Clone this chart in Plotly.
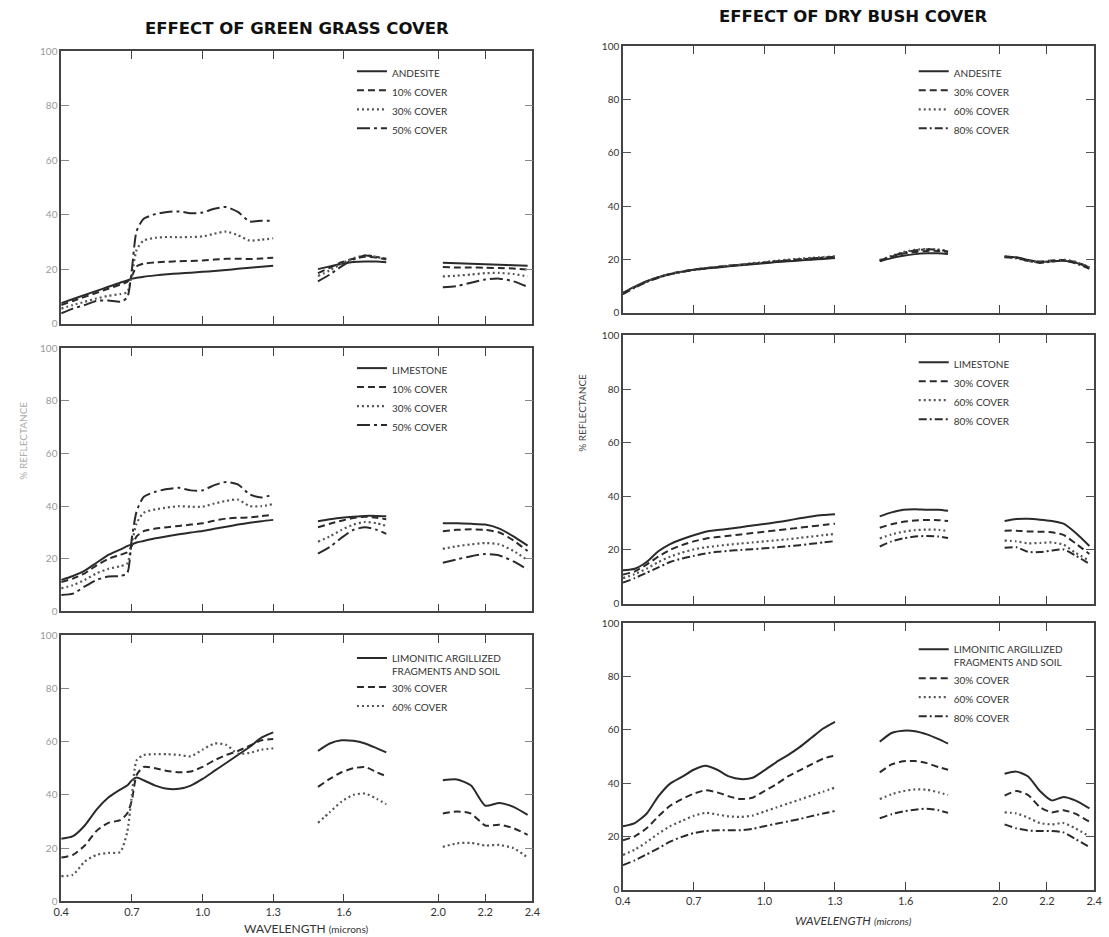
import plotly.graph_objects as go

W, H = 1109, 937

# ---------------- wavelength grids (microns) ----------------
X_GRASS_VIS = [0.40, 0.45, 0.50, 0.55, 0.60, 0.65, 0.68, 0.70, 0.72, 0.75, 0.80,
               0.85, 0.90, 0.95, 1.00, 1.05, 1.10, 1.15, 1.20, 1.25, 1.30]
X_GRASS_SWIR1 = [1.49, 1.54, 1.59, 1.64, 1.69, 1.74, 1.78]
X_GRASS_SWIR2 = [2.02, 2.08, 2.14, 2.20, 2.26, 2.32, 2.38]

X_BUSH_VIS = [0.40, 0.45, 0.50, 0.55, 0.60, 0.65, 0.70, 0.75, 0.80, 0.85,
              0.90, 0.95, 1.00, 1.05, 1.10, 1.15, 1.20, 1.25, 1.30]
X_BUSH_SWIR1 = [1.49, 1.54, 1.59, 1.64, 1.69, 1.74, 1.78]
X_BUSH_SWIR2 = [2.02, 2.07, 2.12, 2.17, 2.22, 2.27, 2.32, 2.38]

XTICK_VALS = [0.4, 0.7, 1.0, 1.3, 1.6, 2.0, 2.2, 2.4]
XTICK_TEXT = ["0.4", "0.7", "1.0", "1.3", "1.6", "2.0", "2.2", "2.4"]
YTICK_VALS = [0, 20, 40, 60, 80, 100]

# ---------------- % reflectance : green grass cover ----------------
GG_ANDESITE = [7.5, 9.0, 10.5, 12.0, 13.5, 15.0, 15.8, 16.5, 16.8, 17.2, 17.7, 18.1, 18.4, 18.7, 19.0, 19.3, 19.7, 20.1, 20.5, 20.9, 21.2,
               20.0, 21.0, 22.0, 22.6, 22.8, 22.8, 22.5,
               22.3, 22.2, 22.0, 21.8, 21.6, 21.4, 21.2]
GG_ANDESITE_10 = [6.8, 8.3, 9.8, 11.3, 12.8, 14.3, 15.3, 17.5, 21.0, 22.0, 22.5, 22.7, 22.9, 23.0, 23.2, 23.5, 23.8, 23.8, 23.7, 23.9, 24.2,
                  18.5, 20.5, 22.5, 23.8, 24.5, 24.2, 23.5,
                  20.8, 20.6, 20.6, 20.5, 20.4, 20.2, 19.8]
GG_ANDESITE_30 = [5.5, 6.8, 8.0, 9.2, 10.2, 10.8, 11.5, 18.0, 27.0, 30.5, 31.5, 31.8, 31.7, 31.8, 32.0, 33.0, 33.8, 32.5, 30.5, 30.8, 31.3,
                  17.5, 19.5, 22.0, 24.0, 25.0, 24.5, 23.3,
                  17.3, 17.6, 18.0, 18.5, 18.6, 18.2, 17.3]
GG_ANDESITE_50 = [3.8, 5.5, 6.8, 8.3, 8.5, 8.0, 9.5, 20.0, 34.0, 38.5, 40.2, 41.0, 41.2, 40.5, 40.8, 42.2, 42.8, 41.0, 37.5, 37.8, 37.8,
                  15.5, 18.0, 21.0, 23.5, 25.0, 24.5, 23.8,
                  13.3, 13.8, 15.0, 16.2, 16.5, 15.5, 13.5]

GG_LIMESTONE = [12.0, 13.5, 15.5, 18.5, 21.5, 23.5, 24.8, 25.5, 26.2, 26.8, 27.8, 28.6, 29.3, 30.0, 30.6, 31.4, 32.2, 33.0, 33.7, 34.3, 34.8,
                34.3, 35.0, 35.6, 36.0, 36.3, 36.3, 36.2,
                33.5, 33.5, 33.3, 33.0, 31.5, 28.5, 25.0]
GG_LIMESTONE_10 = [11.2, 12.5, 14.5, 17.5, 20.0, 21.5, 22.5, 25.0, 28.5, 30.5, 31.5, 32.0, 32.5, 33.0, 33.5, 34.5, 35.3, 35.6, 35.7, 36.2, 36.8,
                   32.0, 33.3, 34.5, 35.5, 36.0, 35.6, 35.0,
                   30.5, 31.0, 31.2, 31.0, 30.0, 27.0, 23.0]
GG_LIMESTONE_30 = [8.8, 10.0, 12.0, 14.5, 16.2, 17.2, 18.2, 26.0, 33.5, 37.5, 38.8, 39.5, 40.0, 39.8, 39.8, 41.0, 42.0, 42.5, 40.0, 40.0, 40.8,
                   26.5, 28.5, 31.0, 33.0, 34.0, 33.5, 32.5,
                   23.8, 24.8, 25.5, 26.0, 25.5, 23.0, 19.5]
GG_LIMESTONE_50 = [6.3, 6.8, 9.5, 12.0, 13.3, 13.5, 14.5, 28.0, 38.0, 43.5, 45.5, 46.5, 47.0, 46.0, 46.0, 48.0, 49.2, 48.3, 44.5, 43.3, 44.5,
                   22.0, 24.5, 28.0, 31.0, 32.0, 31.0, 29.5,
                   18.5, 19.8, 21.0, 21.8, 21.3, 19.0, 16.0]

GG_LIMONITIC = [23.5, 24.5, 28.5, 34.5, 39.0, 42.0, 43.5, 45.5, 46.5, 45.5, 43.5, 42.3, 42.3, 43.5, 46.0, 49.0, 52.0, 55.0, 58.0, 61.5, 63.5,
                56.5, 59.3, 60.5, 60.3, 59.3, 57.5, 56.0,
                45.5, 45.8, 43.5, 36.0, 37.0, 35.5, 32.5]
GG_LIMONITIC_30 = [16.5, 17.5, 21.0, 26.5, 29.5, 30.5, 33.0, 38.0, 47.5, 50.5, 50.0, 49.0, 48.5, 48.8, 50.5, 53.0, 55.0, 56.5, 58.5, 60.5, 61.0,
                   43.0, 46.0, 48.5, 50.0, 50.5, 48.5, 47.0,
                   33.0, 33.8, 33.0, 28.5, 28.8, 27.5, 25.0]
GG_LIMONITIC_60 = [9.5, 10.0, 15.0, 17.5, 18.2, 18.5, 26.0, 40.0, 53.0, 55.0, 55.3, 55.3, 55.0, 54.5, 57.0, 59.3, 58.8, 55.5, 55.8, 57.0, 57.5,
                   29.5, 33.5, 37.5, 40.0, 40.5, 38.5, 36.5,
                   20.5, 21.8, 22.0, 21.0, 21.2, 20.0, 16.5]

# ---------------- % reflectance : dry bush cover ----------------
DB_ANDESITE = [7.5, 9.8, 11.8, 13.3, 14.5, 15.4, 16.1, 16.6, 17.0, 17.4, 17.8, 18.2, 18.6, 19.0, 19.3, 19.6, 19.9, 20.2, 20.5,
               19.3, 20.5, 21.4, 22.0, 22.3, 22.3, 22.0,
               21.0, 20.8, 19.8, 19.0, 19.3, 19.5, 18.8, 17.0]
DB_ANDESITE_30 = [7.2, 9.6, 11.7, 13.3, 14.6, 15.5, 16.2, 16.8, 17.2, 17.6, 18.0, 18.4, 18.8, 19.3, 19.7, 20.0, 20.3, 20.6, 20.9,
                  19.5, 21.0, 22.2, 22.8, 23.2, 23.2, 22.8,
                  21.2, 20.7, 19.6, 19.2, 19.6, 19.8, 19.0, 17.2]
DB_ANDESITE_60 = [7.3, 9.7, 11.7, 13.2, 14.5, 15.4, 16.1, 16.7, 17.2, 17.7, 18.1, 18.6, 19.0, 19.5, 19.9, 20.3, 20.6, 20.9, 21.2,
                  19.8, 21.3, 22.8, 23.6, 23.9, 23.7, 23.2,
                  21.0, 20.4, 19.4, 18.9, 19.4, 19.9, 19.2, 17.0]
DB_ANDESITE_80 = [7.0, 9.4, 11.5, 13.1, 14.4, 15.3, 16.0, 16.6, 17.1, 17.6, 18.0, 18.4, 18.8, 19.2, 19.6, 20.0, 20.4, 20.7, 21.0,
                  19.5, 21.2, 22.5, 23.4, 23.8, 23.6, 23.0,
                  20.8, 20.5, 19.5, 18.7, 19.2, 19.6, 18.6, 16.5]

DB_LIMESTONE = [12.4, 13.0, 15.5, 19.5, 22.2, 24.0, 25.5, 26.8, 27.4, 27.9, 28.5, 29.1, 29.7, 30.3, 31.0, 31.8, 32.5, 33.0, 33.3,
                32.5, 34.0, 35.0, 35.2, 35.0, 35.0, 34.6,
                30.8, 31.5, 31.6, 31.3, 30.8, 29.8, 26.5, 21.5]
DB_LIMESTONE_30 = [10.8, 12.0, 14.5, 17.5, 20.0, 21.8, 23.2, 24.2, 24.8, 25.3, 25.8, 26.3, 26.8, 27.3, 27.8, 28.3, 28.8, 29.3, 29.8,
                   28.3, 29.6, 30.5, 31.0, 31.2, 31.1, 30.8,
                   27.2, 27.2, 26.9, 26.8, 26.6, 25.6, 22.5, 18.5]
DB_LIMESTONE_60 = [9.5, 11.0, 13.0, 15.5, 17.5, 19.0, 20.2, 21.0, 21.5, 22.0, 22.4, 22.8, 23.2, 23.6, 24.0, 24.5, 25.0, 25.5, 26.0,
                   24.3, 25.8, 26.8, 27.4, 27.6, 27.5, 27.0,
                   23.5, 23.2, 22.5, 22.6, 22.8, 22.0, 19.0, 16.0]
DB_LIMESTONE_80 = [7.8, 9.5, 11.5, 13.5, 15.5, 16.8, 17.8, 18.7, 19.3, 19.7, 20.0, 20.3, 20.6, 21.0, 21.4, 21.8, 22.3, 22.8, 23.3,
                   21.3, 23.2, 24.3, 25.0, 25.2, 25.0, 24.5,
                   20.8, 21.0, 19.3, 19.2, 19.8, 20.2, 18.0, 14.8]

DB_LIMONITIC = [23.8, 25.0, 28.5, 35.0, 39.8, 42.3, 45.0, 46.5, 45.0, 42.5, 41.5, 42.0, 44.8, 47.8, 50.5, 53.5, 57.0, 60.5, 63.0,
                55.5, 58.8, 59.7, 59.5, 58.3, 56.5, 54.8,
                43.5, 44.3, 42.5, 37.0, 33.5, 34.8, 33.5, 30.5]
DB_LIMONITIC_30 = [18.5, 20.0, 23.0, 27.5, 31.5, 34.0, 36.0, 37.3, 36.5, 35.0, 34.0, 34.5, 37.0, 39.5, 42.5, 44.8, 47.0, 49.2, 50.3,
                   44.0, 47.0, 48.2, 48.3, 47.5, 46.0, 45.0,
                   35.3, 37.0, 35.5, 31.0, 29.0, 29.8, 28.5, 25.5]
DB_LIMONITIC_60 = [13.0, 15.0, 17.8, 21.0, 23.8, 25.8, 27.7, 28.8, 28.2, 27.5, 27.3, 27.8, 29.3, 30.8, 32.3, 33.8, 35.3, 36.8, 38.3,
                   34.0, 35.8, 37.0, 37.6, 37.5, 36.5, 35.5,
                   29.0, 28.6, 27.0, 25.0, 24.5, 25.0, 23.0, 20.0]
DB_LIMONITIC_80 = [9.2, 11.0, 13.2, 15.5, 18.0, 19.8, 21.2, 22.0, 22.3, 22.3, 22.3, 22.8, 23.8, 24.7, 25.6, 26.5, 27.6, 28.6, 29.5,
                   26.8, 28.3, 29.4, 30.0, 30.4, 29.8, 28.8,
                   24.5, 23.0, 22.2, 22.0, 22.0, 21.5, 19.0, 16.0]

# ---------------- styling ----------------
FONT = "Lato"
TITLE_FONT = "DejaVu Sans"
INK = "#2a2a2a"
DASHES = {
    "solid": "solid",
    "dash": "7px,4px",
    "dot": "2px,3px",
    "dashdot": "8px,3px,2px,3px",
    "longdashdot": "13px,4px,3px,4px",
}
LEFT_X = [54 / W, 532 / W]
RIGHT_X = [624 / W, 1102 / W]
ROWS_LEFT = [(45, 321), (346, 613), (637, 907)]
ROWS_RIGHT = [(40, 310), (333, 605), (625, 895)]

GRASS_SEGS = [X_GRASS_VIS, X_GRASS_SWIR1, X_GRASS_SWIR2]
BUSH_SEGS = [X_BUSH_VIS, X_BUSH_SWIR1, X_BUSH_SWIR2]

PANELS = [
    dict(segs=GRASS_SEGS, col="L", row=0, series=[
        ("ANDESITE", GG_ANDESITE, "solid"), ("10% COVER", GG_ANDESITE_10, "dash"),
        ("30% COVER", GG_ANDESITE_30, "dot"), ("50% COVER", GG_ANDESITE_50, "longdashdot")]),
    dict(segs=GRASS_SEGS, col="L", row=1, series=[
        ("LIMESTONE", GG_LIMESTONE, "solid"), ("10% COVER", GG_LIMESTONE_10, "dash"),
        ("30% COVER", GG_LIMESTONE_30, "dot"), ("50% COVER", GG_LIMESTONE_50, "longdashdot")]),
    dict(segs=GRASS_SEGS, col="L", row=2, series=[
        ("LIMONITIC ARGILLIZED<br>FRAGMENTS AND SOIL", GG_LIMONITIC, "solid"),
        ("30% COVER", GG_LIMONITIC_30, "dash"), ("60% COVER", GG_LIMONITIC_60, "dot")]),
    dict(segs=BUSH_SEGS, col="R", row=0, series=[
        ("ANDESITE", DB_ANDESITE, "solid"), ("30% COVER", DB_ANDESITE_30, "dash"),
        ("60% COVER", DB_ANDESITE_60, "dot"), ("80% COVER", DB_ANDESITE_80, "dashdot")]),
    dict(segs=BUSH_SEGS, col="R", row=1, series=[
        ("LIMESTONE", DB_LIMESTONE, "solid"), ("30% COVER", DB_LIMESTONE_30, "dash"),
        ("60% COVER", DB_LIMESTONE_60, "dot"), ("80% COVER", DB_LIMESTONE_80, "dashdot")]),
    dict(segs=BUSH_SEGS, col="R", row=2, series=[
        ("LIMONITIC ARGILLIZED<br>FRAGMENTS AND SOIL", DB_LIMONITIC, "solid"),
        ("30% COVER", DB_LIMONITIC_30, "dash"), ("60% COVER", DB_LIMONITIC_60, "dot"),
        ("80% COVER", DB_LIMONITIC_80, "dashdot")]),
]
LEGEND_TOP_PX = [52, 353, 647, 52, 347, 638]


def spectrum(segs, vals):
    xs, ys, i = [], [], 0
    for k, seg in enumerate(segs):
        if k:
            xs.append((xs[-1] + seg[0]) / 2)
            ys.append(None)
        xs += seg
        ys += vals[i:i + len(seg)]
        i += len(seg)
    return xs, ys


fig = go.Figure()
layout = dict(
    width=W, height=H, margin=dict(l=0, r=0, t=0, b=0),
    paper_bgcolor="white", plot_bgcolor="white",
    font=dict(family=FONT, color=INK),
)

for p, panel in enumerate(PANELS):
    n = p + 1
    sfx = "" if n == 1 else str(n)
    left = panel["col"] == "L"
    top_px, bot_px = (ROWS_LEFT if left else ROWS_RIGHT)[panel["row"]]
    is_bottom = panel["row"] == 2
    lab_col = "#9a9a9a" if left else "#333333"
    legname = "legend" + sfx

    for name, vals, style in panel["series"]:
        xs, ys = spectrum(panel["segs"], vals)
        fig.add_trace(go.Scatter(
            x=xs, y=ys, mode="lines", name=name, connectgaps=False,
            line=dict(color="#555555" if style == "dot" else INK,
                      width=2.2 if style == "dot" else 2.0,
                      dash=DASHES[style], shape="spline", smoothing=0.6),
            xaxis="x" + sfx, yaxis="y" + sfx, legend=legname,
        ))

    layout["xaxis" + sfx] = dict(
        domain=LEFT_X if left else RIGHT_X, anchor="y" + sfx,
        range=[0.4, 2.4], tickvals=XTICK_VALS, ticktext=XTICK_TEXT,
        showticklabels=is_bottom, ticks="inside", ticklen=8, tickwidth=1.3,
        tickcolor="#444", showline=True, linecolor="#444", linewidth=1.5,
        mirror="ticks", showgrid=False, zeroline=False,
        tickfont=dict(size=11, color="#333"),
    )
    layout["yaxis" + sfx] = dict(
        domain=[1 - bot_px / H, 1 - top_px / H], anchor="x" + sfx,
        range=[0, 100], tickvals=YTICK_VALS, ticks="inside", ticklen=8,
        tickwidth=1.3, tickcolor="#555" if not left else "#888",
        showline=True, linecolor="#444", linewidth=1.5, mirror="ticks",
        showgrid=False, zeroline=False,
        tickfont=dict(size=10, color=lab_col),
    )
    legx_px = 349 if left else 919
    layout[legname] = dict(
        x=legx_px / W, y=1 - LEGEND_TOP_PX[p] / H, xanchor="left", yanchor="top",
        bgcolor="rgba(0,0,0,0)", borderwidth=0, itemwidth=30, valign="top",
        tracegroupgap=0, font=dict(family=FONT, size=10, color="#333"),
    )

annotations = [
    dict(text="<b>EFFECT OF GREEN GRASS COVER</b>", x=293 / W, y=1 - 22 / H,
         font=dict(family=TITLE_FONT, size=16.5, color="#111")),
    dict(text="<b>EFFECT OF DRY BUSH COVER</b>", x=858 / W, y=1 - 10 / H,
         font=dict(family=TITLE_FONT, size=16.5, color="#111")),
    dict(text="% REFLECTANCE", x=15 / W, y=1 - 440 / H, textangle=-90,
         font=dict(family=FONT, size=10, color="#aaaaaa")),
    dict(text="% REFLECTANCE", x=583 / W, y=1 - 412 / H, textangle=-90,
         font=dict(family=FONT, size=10, color="#444")),
    dict(text="WAVELENGTH <span style='font-size:10px'>(microns)</span>", x=303 / W,
         y=1 - 934 / H, font=dict(family=FONT, size=12, color="#333")),
    dict(text="<i>WAVELENGTH</i> <span style='font-size:10px'><i>(microns)</i></span>",
         x=858 / W, y=1 - 926 / H, font=dict(family=FONT, size=12, color="#333")),
]
for a in annotations:
    a.update(xref="paper", yref="paper", showarrow=False, xanchor="center",
             yanchor="middle")
layout["annotations"] = annotations

fig.update_layout(**layout)
fig.write_html("out.html")
